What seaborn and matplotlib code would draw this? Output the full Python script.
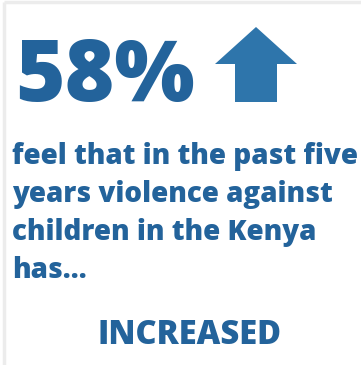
import matplotlib
matplotlib.use("Agg")
import matplotlib.pyplot as plt
from matplotlib.patches import Polygon
import seaborn as sns

# Survey figure shown in the card
share_pct = [58]
direction = ["INCREASED"]
statement_lines = [
    "feel that in the past five",
    "years violence against",
    "children in the Kenya",
    "has\u2026",
]

TEXT_BLUE = "#23639b"
ARROW_BLUE = "#2e75ab"
BORDER = "#ececec"

sns.set_theme(style="white")
plt.rcParams["font.family"] = ["Open Sans", "DejaVu Sans"]

W, H = 361, 365
fig = plt.figure(figsize=(W / 100, H / 100), dpi=100)
ax = fig.add_axes([0, 0, 1, 1])
ax.set_xlim(0, W)
ax.set_ylim(H, 0)
ax.axis("off")

# card border (top and left edges)
ax.plot([4, W], [2, 2], color=BORDER, lw=2.5, solid_capstyle="butt")
ax.plot([4, 4], [2, H], color=BORDER, lw=2.5, solid_capstyle="butt")

# big percentage
ax.text(15, 101, f"{share_pct[0]}%", fontsize=61, fontweight=800,
        color=TEXT_BLUE, ha="left", va="baseline")

# upward arrow
cx = 256
arrow = Polygon([(cx, 27), (cx + 41, 64), (cx + 21, 64), (cx + 21, 102),
                 (cx - 21, 102), (cx - 21, 64), (cx - 41, 64)],
                closed=True, facecolor=ARROW_BLUE, edgecolor="none")
ax.add_patch(arrow)

# statement
for i, line in enumerate(statement_lines):
    ax.text(12, 164 + 38 * i, line, fontsize=20, fontweight=800,
            color=TEXT_BLUE, ha="left", va="baseline")

ax.text(189, 344, direction[0], fontsize=23.5, fontweight=800,
        color=TEXT_BLUE, ha="center", va="baseline")

fig.savefig("out.png", dpi=100, facecolor="white")
